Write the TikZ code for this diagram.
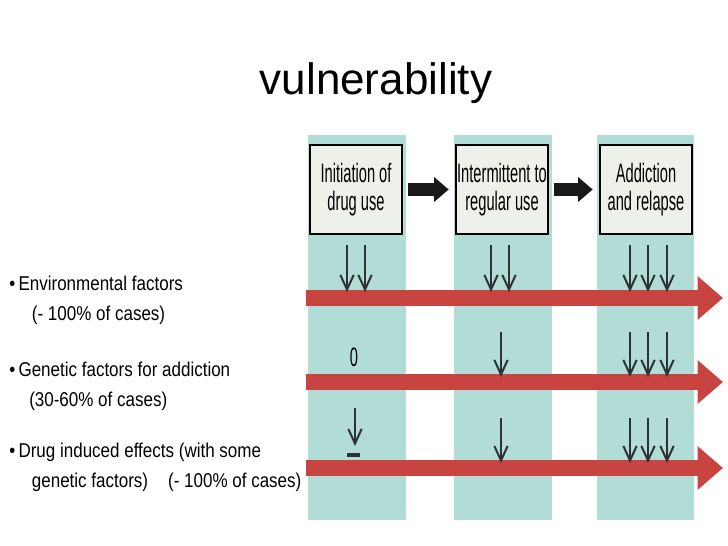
\documentclass[tikz,border=0pt]{standalone}
\usepackage{fontspec}
\setmainfont{Liberation Sans}
\newfontfamily\sidefont[FakeStretch=0.85]{Liberation Sans}
\newfontfamily\boxfont[FakeStretch=0.55]{Liberation Sans}
\usetikzlibrary{arrows.meta}
\definecolor{colteal}{RGB}{178, 220, 214}
\definecolor{arrowred}{RGB}{199, 68, 64}
\definecolor{boxfill}{RGB}{238, 241, 233}
\definecolor{markgray}{RGB}{45, 50, 50}

\begin{document}
\begin{tikzpicture}[x=0.75pt, y=-0.75pt,
  column/.style={fill=colteal, minimum width=73.5pt, minimum height=289pt, inner sep=0pt},
  stagebox/.style={draw=black, line width=1.9pt, fill=boxfill, minimum width=69pt, minimum height=66.5pt, inner sep=0pt, align=center, font=\boxfont\fontsize{20}{21.5}\selectfont},
  flowarrow/.style={-{Triangle[length=11pt, width=18pt]}, line width=9.75pt, black!90},
  redarrow/.style={-{Triangle[length=19pt, width=31.5pt]}, line width=12pt, arrowred},
  downarrow/.style={-{Straight Barb[length=11pt, width=10pt, line width=1.5pt]}, line width=1.5pt, markgray},
  factor/.style={anchor=west, inner sep=0pt, align=left, font=\sidefont\fontsize{15}{22.5}\selectfont},
]
\fill[white] (0,0) rectangle (728,546);
\useasboundingbox (0,0) rectangle (728,546);

% Title
\node[font=\fontsize{33}{40}\selectfont] (title) at (376, 83) {vulnerability};

% Stage columns
\node[column] (col1) at (357, 327.5) {};
\node[column] (col2) at (503, 327.5) {};
\node[column, minimum width=72.75pt] (col3) at (645.5, 327.5) {};

% Stage boxes
\node[stagebox] (init) at (356, 189.5) {Initiation of\\drug use};
\node[stagebox] (inter) at (502, 189.5) {Intermittent to\\regular use};
\node[stagebox] (addict) at (646, 189.5) {Addiction\\and relapse};

\draw[flowarrow, shorten <=3.5pt, shorten >=4.5pt] (init) -- (inter);
\draw[flowarrow, shorten <=3.5pt, shorten >=4.5pt] (inter) -- (addict);

% Factors
\node[factor] (env) at (9, 300) {\textbullet\,Environmental factors\\\hspace*{17pt}(- 100\% of cases)};
\node[factor] (gen) at (9, 386) {\textbullet\,Genetic factors for addiction\\\hspace*{15pt}(30-60\% of cases)};
\node[factor] (drug) at (9, 467) {\textbullet\,Drug induced effects (with some\\\hspace*{17pt}genetic factors)\quad(- 100\% of cases)};

% Red arrows
\coordinate (env start) at (306, 298);
\coordinate (env end) at (723, 298);
\coordinate (gen start) at (306, 382);
\coordinate (gen end) at (723, 382);
\coordinate (drug start) at (306, 468);
\coordinate (drug end) at (723, 468);
\draw[redarrow] (env start) -- (env end);
\draw[redarrow] (gen start) -- (gen end);
\draw[redarrow] (drug start) -- (drug end);

% Effect marks
\foreach \x in {347, 365, 491, 509, 630, 648, 667}
  \draw[downarrow] (\x, 245) -- (\x, 292);
\node[font=\boxfont\fontsize{20}{21}\selectfont, inner sep=0pt] (zero) at (354, 357) {0};
\foreach \x in {501, 630, 648, 667}
  \draw[downarrow] (\x, 332) -- (\x, 377);
\draw[downarrow] (355, 408) -- (355, 446);
\draw[line width=2.4pt, markgray] (347, 455) -- (360, 455);
\foreach \x in {501, 630, 648, 667}
  \draw[downarrow] (\x, 418) -- (\x, 463);
\end{tikzpicture}
\end{document}
